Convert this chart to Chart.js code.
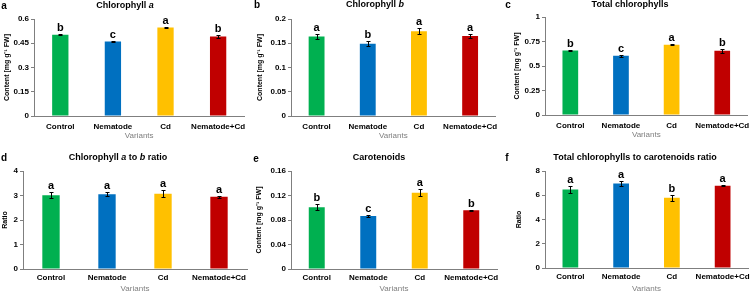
<!DOCTYPE html>
<html>
<head>
<meta charset="utf-8">
<script src="https://cdn.jsdelivr.net/npm/chart.js@4"></script>
<style>
  html, body { margin: 0; padding: 0; background: #fff; overflow: hidden; }
  #wrap { position: relative; width: 756px; height: 291px; }
  #wrap canvas { position: absolute; }
</style>
</head>
<body>
<div id="wrap"></div>
<script>
// categories
const variants = ["Control", "Nematode", "Cd", "Nematode+Cd"];

// a - Chlorophyll a
const chlA = [0.503, 0.461, 0.548, 0.492];
const chlAErr = [0.002, 0.005, 0.005, 0.012];
const chlASig = ["b", "c", "a", "b"];
const chlATicks = ["0", "0.15", "0.3", "0.45", "0.6"];
// b - Chlorophyll b
const chlB = [0.164, 0.149, 0.175, 0.165];
const chlBErr = [0.006, 0.005, 0.0055, 0.005];
const chlBSig = ["a", "b", "a", "a"];
const chlBTicks = ["0", "0.05", "0.1", "0.15", "0.2"];
// c - Total chlorophylls
const chlTotal = [0.659, 0.604, 0.717, 0.655];
const chlTotalErr = [0.003, 0.008, 0.004, 0.02];
const chlTotalSig = ["b", "c", "a", "b"];
const chlTotalTicks = ["0", "0.25", "0.5", "0.75", "1"];
// d - Chlorophyll a to b ratio
const ratioAB = [3.01, 3.05, 3.07, 2.95];
const ratioABErr = [0.13, 0.09, 0.14, 0.04];
const ratioABSig = ["a", "a", "a", "a"];
const ratioABTicks = ["0", "1", "2", "3", "4"];
// e - Carotenoids
const carot = [0.101, 0.0865, 0.1246, 0.0958];
const carotErr = [0.0044, 0.002, 0.0054, 0.001];
const carotSig = ["b", "c", "a", "b"];
const carotTicks = ["0", "0.04", "0.08", "0.12", "0.16"];
// f - Total chlorophylls to carotenoids ratio
const ratioTC = [6.48, 6.97, 5.8, 6.78];
const ratioTCErr = [0.27, 0.23, 0.25, 0.05];
const ratioTCSig = ["a", "a", "b", "a"];
const ratioTCTicks = ["0", "2", "4", "6", "8"];

const barColors = ["#00B050", "#0070C0", "#FFC000", "#C00000"];
const axisGray = "#7f7f7f";
const contentTitle = "Content [mg g\u207B\u00B9 FW]";

Chart.defaults.font.family = '"Liberation Sans", Arial, sans-serif';

const panels = [
  { letter: "a", title: [["Chlorophyll ", false], ["a", true]], vals: chlA, errs: chlAErr, sig: chlASig, ticks: chlATicks, yTitle: contentTitle,
    x: 0, y: 0, w: 252, h: 145, L: 34, R: 245, T: 19, B: 116, titleX: 125, titleY: 6, letterX: 4, letterY: 6, catPad: 6, varY: 136, yTitleX: 7 },
  { letter: "b", title: [["Chlorophyll ", false], ["b", true]], vals: chlB, errs: chlBErr, sig: chlBSig, ticks: chlBTicks, yTitle: contentTitle,
    x: 252, y: 0, w: 252, h: 145, L: 39, R: 245, T: 19, B: 116, titleX: 123, titleY: 5, letterX: 5, letterY: 5, catPad: 6, varY: 136, yTitleX: 8 },
  { letter: "c", title: [["Total chlorophylls", false]], vals: chlTotal, errs: chlTotalErr, sig: chlTotalSig, ticks: chlTotalTicks, yTitle: contentTitle,
    x: 504, y: 0, w: 252, h: 145, L: 41, R: 246, T: 17, B: 115, titleX: 126, titleY: 5, letterX: 4, letterY: 5, catPad: 6, varY: 135, yTitleX: 13 },
  { letter: "d", title: [["Chlorophyll ", false], ["a", true], [" to ", false], ["b", true], [" ratio", false]], vals: ratioAB, errs: ratioABErr, sig: ratioABSig, ticks: ratioABTicks, yTitle: "Ratio",
    x: 0, y: 145, w: 252, h: 152, L: 23, R: 247, T: 26, B: 124, titleX: 118, titleY: 13, letterX: 4, letterY: 13, catPad: 4, varY: 144, yTitleX: 5 },
  { letter: "e", title: [["Carotenoids", false]], vals: carot, errs: carotErr, sig: carotSig, ticks: carotTicks, yTitle: contentTitle,
    x: 252, y: 145, w: 252, h: 152, L: 39, R: 245, T: 26, B: 124, titleX: 127, titleY: 13, letterX: 4, letterY: 14, catPad: 4, varY: 144, yTitleX: 7 },
  { letter: "f", title: [["Total chlorophylls to carotenoids ratio", false]], vals: ratioTC, errs: ratioTCErr, sig: ratioTCSig, ticks: ratioTCTicks, yTitle: "Ratio",
    x: 504, y: 145, w: 252, h: 152, L: 41, R: 244, T: 26, B: 123, titleX: 131, titleY: 13, letterX: 3, letterY: 13, catPad: 4, varY: 144, yTitleX: 15 }
];

// error bars, significance letters, panel title and letter
const decor = {
  id: "decor",
  afterDatasetsDraw(chart, args, opts) {
    const ctx = chart.ctx;
    const ys = chart.scales.y;
    const bars = chart.getDatasetMeta(0).data;
    const vals = chart.data.datasets[0].data;
    ctx.save();
    bars.forEach((bar, i) => {
      const x = Math.round(bar.x) + 0.5;
      const top = Math.round(ys.getPixelForValue(vals[i] + opts.errs[i])) + 0.5;
      const bot = Math.round(ys.getPixelForValue(vals[i] - opts.errs[i])) + 0.5;
      ctx.strokeStyle = "#000";
      ctx.lineWidth = 1;
      ctx.beginPath();
      ctx.moveTo(x, top); ctx.lineTo(x, bot);
      ctx.moveTo(x - 2, top); ctx.lineTo(x + 2, top);
      ctx.moveTo(x - 2, bot); ctx.lineTo(x + 2, bot);
      ctx.stroke();
      ctx.fillStyle = "#000";
      ctx.font = 'bold 11px "Liberation Sans", Arial, sans-serif';
      ctx.textAlign = "center";
      ctx.textBaseline = "alphabetic";
      ctx.fillText(opts.sig[i], bar.x, top - 4);
    });

    // panel title with italic parts
    const fontFor = (it) => (it ? "italic " : "") + 'bold 9px "Liberation Sans", Arial, sans-serif';
    let total = 0;
    opts.title.forEach(([t, it]) => { ctx.font = fontFor(it); total += ctx.measureText(t).width; });
    let tx = opts.titleX - total / 2;
    ctx.textAlign = "left";
    ctx.textBaseline = "middle";
    opts.title.forEach(([t, it]) => {
      ctx.font = fontFor(it);
      ctx.fillText(t, tx, opts.titleY);
      tx += ctx.measureText(t).width;
    });

    ctx.font = 'bold 10px "Liberation Sans", Arial, sans-serif';
    ctx.textAlign = "center";
    ctx.fillText(opts.letter, opts.letterX, opts.letterY);
    ctx.restore();
  }
};

const wrap = document.getElementById("wrap");
panels.forEach((p) => {
  const cv = document.createElement("canvas");
  cv.width = p.w;
  cv.height = p.h;
  cv.style.left = p.x + "px";
  cv.style.top = p.y + "px";
  cv.style.width = p.w + "px";
  cv.style.height = p.h + "px";
  wrap.appendChild(cv);

  const tickVals = p.ticks.map(Number);

  new Chart(cv.getContext("2d"), {
    type: "bar",
    data: {
      labels: variants,
      datasets: [{
        data: p.vals,
        backgroundColor: barColors,
        borderWidth: 0,
        barPercentage: 0.31,
        categoryPercentage: 1
      }]
    },
    options: {
      responsive: false,
      animation: false,
      devicePixelRatio: 1,
      layout: { padding: { top: p.T, right: p.w - p.R, left: 0, bottom: 0 } },
      plugins: {
        legend: { display: false },
        tooltip: { enabled: false },
        decor: {
          errs: p.errs, sig: p.sig, title: p.title, titleX: p.titleX, titleY: p.titleY,
          letter: p.letter, letterX: p.letterX, letterY: p.letterY
        }
      },
      scales: {
        x: {
          grid: { display: false, drawTicks: false },
          border: { color: axisGray, width: 1 },
          ticks: { color: "#000", font: { size: 8, weight: "bold" }, padding: p.catPad, maxRotation: 0, autoSkip: false },
          title: {
            display: true, text: "Variants", color: axisGray, font: { size: 8 },
            padding: { top: 0, bottom: p.h - p.varY - 4.8 }
          },
          afterFit(s) { s.height = p.h - p.B; }
        },
        y: {
          min: tickVals[0],
          max: tickVals[tickVals.length - 1],
          afterBuildTicks(s) { s.ticks = tickVals.map((v) => ({ value: v })); },
          ticks: {
            autoSkip: false, color: "#000", font: { size: 8, weight: "bold" }, padding: 2,
            callback: (v, i) => p.ticks[i]
          },
          grid: { drawOnChartArea: false, tickLength: 3, color: axisGray },
          border: { color: axisGray, width: 1 },
          title: {
            display: true, text: p.yTitle, color: "#000", font: { size: 7, weight: "bold" },
            padding: { top: p.yTitleX - 4.2, bottom: 0 }
          },
          afterFit(s) { s.width = p.L; }
        }
      }
    },
    plugins: [decor]
  });
});
</script>
</body>
</html>
